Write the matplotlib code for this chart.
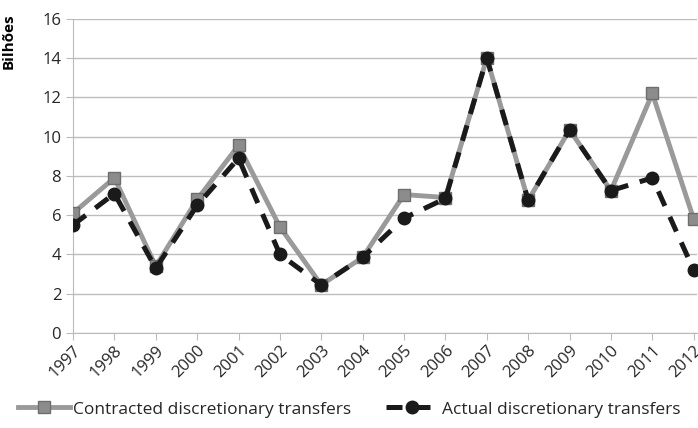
import numpy as np
import matplotlib
matplotlib.use("Agg")
import matplotlib.pyplot as plt

plt.rcParams['font.family'] = ['Open Sans', 'DejaVu Sans']

years = [1997, 1998, 1999, 2000, 2001, 2002, 2003, 2004,
         2005, 2006, 2007, 2008, 2009, 2010, 2011, 2012]
contracted = [6.1, 7.9, 3.4, 6.8, 9.55, 5.4, 2.45, 3.85,
              7.05, 6.9, 14.0, 6.75, 10.35, 7.25, 12.2, 5.8]
actual = [5.5, 7.1, 3.3, 6.5, 8.9, 4.0, 2.45, 3.85,
          5.85, 6.85, 14.0, 6.75, 10.35, 7.25, 7.9, 3.2]

fig = plt.figure(figsize=(6.98, 4.28), dpi=100)
ax = fig.add_axes([0.1046, 0.222, 0.894, 0.734])

x = np.arange(len(years))
ax.plot(x, contracted, color='#9a9a9a', lw=3.5, marker='s', ms=9,
        markerfacecolor='#8c8c8c', markeredgecolor='#6e6e6e', mew=1,
        label='Contracted discretionary transfers', zorder=3)
ax.plot(x, actual, color='#1a1a1a', lw=3.6, dashes=(3.2, 2.4), marker='o', ms=9,
        markerfacecolor='#1a1a1a', markeredgecolor='#1a1a1a',
        label='Actual discretionary transfers', zorder=4)

ax.set_ylim(0, 16)
ax.set_yticks(range(0, 17, 2))
ax.set_xlim(0, 15.08)
ax.set_xticks(x)
ax.set_xticklabels([str(y) for y in years], rotation=45, ha='right',
                   rotation_mode='anchor')
ax.tick_params(axis='x', length=5, color='#bbbbbb', labelsize=12, pad=2,
               labelcolor='#262626')
ax.tick_params(axis='y', length=5, color='#bbbbbb', labelsize=12,
               labelcolor='#262626')
ax.yaxis.grid(True, color='#bdbdbd', lw=1)
ax.set_axisbelow(True)
for s in ['top', 'right']:
    ax.spines[s].set_visible(False)
ax.spines['left'].set_color('#bbbbbb')
ax.spines['bottom'].set_color('#bbbbbb')
ax.set_ylabel('Bilhões', fontsize=11, fontweight='bold')
ax.yaxis.set_label_coords(-0.092, 0.93)

fig.legend(loc='lower center', bbox_to_anchor=(0.5, -0.012), ncol=2,
           frameon=False, fontsize=12.5, handlelength=3, columnspacing=2.0,
           handletextpad=0.2, labelcolor='#262626')

fig.savefig('out.png', dpi=100)
